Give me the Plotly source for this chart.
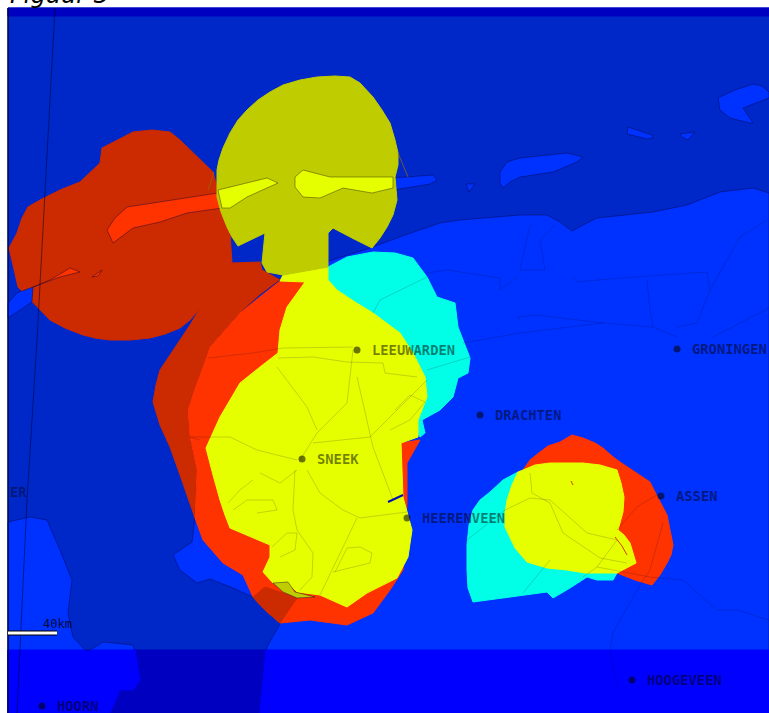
import plotly.graph_objects as go

SEA = "#0028C8"; LAND = "#0032FF"; RED = "#FF3300"; DARKRED = "#CC2A00"
YELLOW = "#E6FF00"; OLIVE = "#BFCC00"; CYAN = "#00FFE6"
STRIP_SEA = "#0000C0"; STRIP_LAND = "#0000FF"; COAST = "rgba(0,0,60,0.4)"; ROAD = "rgba(0,0,40,0.17)"

sea = [(8, 8), (769, 8), (769, 713), (8, 713)]
sea_top = [(8, 8), (769, 8), (769, 16), (8, 16)]
sea_bottom = [(8, 650), (769, 650), (769, 713), (8, 713)]
darkred_north = [(9, 248), (13, 240), (17, 233), (22, 218), (28, 207), (40, 200), (60, 190), (80, 182), (90, 172), (100, 163),
                 (102, 148), (117, 140), (133, 132), (152, 130), (170, 132), (180, 140), (187, 147), (200, 160), (213, 172),
                 (217, 187), (230, 233), (232, 263), (260, 262), (262, 270), (280, 280), (300, 300),
                 (240, 420), (195, 518), (190, 503), (180, 475), (170, 447), (160, 425), (153, 402), (156, 385), (160, 370),
                 (170, 355), (180, 340), (190, 325), (200, 308), (190, 320), (180, 328), (165, 334), (150, 338), (130, 340),
                 (110, 340), (95, 338), (83, 335), (65, 328), (50, 320), (40, 310), (33, 302), (18, 287), (13, 265)]
land_main = [(769, 193), (753, 188), (720, 192), (703, 199), (687, 205), (653, 212), (625, 215), (597, 218), (585, 224), (572, 231),
             (560, 222), (547, 215), (520, 215), (487, 218), (460, 220), (440, 223), (405, 235), (370, 248), (300, 270),
             (280, 280), (260, 295), (240, 313), (225, 330), (210, 347), (203, 367), (195, 388), (188, 410),
             (190, 437), (197, 470), (195, 518), (192, 542), (173, 555), (180, 570), (197, 583), (210, 579), (233, 588),
             (253, 597), (265, 587), (295, 597), (280, 623), (267, 647), (260, 713), (769, 713)]
land_west = [(8, 522), (30, 517), (47, 520), (60, 550), (72, 580), (68, 613), (73, 637), (87, 652), (103, 642), (133, 645),
             (140, 680), (133, 690), (120, 690), (110, 713), (8, 713)]
land_main_strip = [(266, 650), (769, 650), (769, 713), (260, 713)]
land_west_strip = [(8, 650), (84, 650), (87, 652), (92, 650), (135, 650), (140, 680), (133, 690), (120, 690), (110, 713), (8, 713)]
islands = [
    [(393, 178), (433, 175), (437, 180), (430, 184), (393, 190)],
    [(466, 184), (475, 184), (469, 192)],
    [(500, 172), (507, 162), (520, 158), (567, 153), (583, 157), (577, 162), (553, 172), (520, 177), (510, 182), (503, 188), (500, 183)],
    [(628, 127), (652, 135), (653, 138), (647, 139), (627, 134)],
    [(680, 134), (695, 132), (688, 140), (682, 137)],
    [(718, 98), (735, 90), (753, 84), (762, 86), (769, 92), (769, 98), (743, 108), (753, 123), (750, 123), (730, 118), (720, 110)],
    [(8, 303), (17, 293), (33, 287), (32, 302), (8, 318)],
]
red_main = [(305, 282), (280, 281), (240, 313), (225, 330), (210, 347), (203, 367), (195, 388), (188, 410), (190, 437), (197, 470), (195, 518),
            (203, 540), (223, 563), (243, 575), (253, 597), (265, 610), (280, 623), (310, 620), (347, 625), (373, 613), (390, 590), (403, 570),
            (407, 503), (407, 463), (420, 440), (401, 443), (350, 400)]
red_islands = [
    [(218, 193), (170, 200), (127, 207), (115, 218), (107, 230), (113, 243), (133, 228), (160, 222), (187, 213), (222, 208)],
    [(33, 287), (50, 280), (70, 268), (80, 272), (60, 277), (40, 284)],
    [(92, 277), (102, 270), (98, 276)],
]
darkred_south = [(253, 597), (265, 587), (297, 598), (280, 623), (265, 610)]
cyan_main = [(328, 280), (328, 267), (347, 257), (373, 252), (395, 253), (413, 258), (427, 277), (437, 297), (455, 303), (458, 327),
             (470, 358), (468, 373), (458, 378), (453, 397), (440, 410), (422, 420), (425, 433), (420, 437), (400, 400), (360, 320)]
yellow_main = [(280, 281), (283, 275), (328, 267), (328, 280), (337, 290), (355, 302), (373, 313), (400, 333), (413, 353), (425, 377), (427, 397), (418, 420),
               (418, 437), (401, 443), (403, 497), (412, 530), (408, 557), (397, 578), (367, 593), (347, 607), (320, 595),
               (297, 592), (287, 582), (273, 583), (263, 572), (270, 557), (270, 545), (230, 528), (225, 515), (220, 500), (213, 475), (206, 448),
               (220, 417), (240, 383), (260, 367), (278, 353), (280, 330), (287, 307), (305, 282)]
olive_main = [(217, 170), (219, 160), (223, 148), (230, 133), (238, 120), (247, 110), (258, 100), (270, 92), (283, 85), (300, 80),
              (317, 77), (335, 76), (350, 77), (360, 83), (373, 97), (382, 110), (390, 123), (395, 140), (398, 153), (398, 165),
              (395, 177), (396, 190), (397, 200), (393, 215), (387, 227), (380, 238), (372, 248), (352, 238), (333, 228),
              (328, 233), (328, 267), (283, 275), (267, 272), (262, 263), (265, 233), (238, 246), (232, 237), (227, 227),
              (221, 212), (217, 197)]
olive_south = [(273, 583), (288, 582), (295, 592), (315, 597), (297, 598), (283, 592)]
yellow_islands = [
    [(218, 190), (267, 178), (278, 183), (247, 197), (230, 208), (222, 208)],
    [(295, 177), (303, 170), (330, 177), (393, 177), (393, 188), (372, 193), (343, 188), (320, 198), (303, 197), (295, 187)],
]
cyan_east = [(518, 472), (503, 480), (490, 492), (480, 500), (473, 510), (469, 525), (467, 545), (467, 570), (468, 588), (473, 602),
             (510, 597), (547, 592), (553, 598), (570, 588), (587, 577), (597, 580), (613, 580), (617, 573), (570, 520)]
red_east = [(523, 470), (530, 460), (540, 452), (548, 446), (560, 442), (572, 435), (583, 438), (595, 443), (603, 448), (612, 456),
            (620, 462), (635, 472), (650, 482), (655, 492), (660, 502), (667, 515), (670, 530), (673, 545), (671, 555), (667, 563),
            (660, 575), (652, 585), (635, 580), (617, 573), (590, 520)]
yellow_east = [(523, 470), (535, 465), (550, 463), (583, 463), (600, 465), (617, 470), (621, 483), (624, 497), (623, 512), (618, 530),
               (624, 535), (630, 543), (636, 563), (628, 567), (617, 573), (585, 573), (567, 570), (547, 568), (527, 562), (515, 548),
               (505, 527), (505, 513), (507, 500), (512, 485), (518, 472)]

roads = [
    [(208, 358), (253, 353), (283, 348), (353, 347)],
    [(278, 358), (313, 357), (347, 362), (383, 363), (385, 373), (417, 377)],
    [(353, 350), (347, 403), (317, 433), (300, 460)],
    [(357, 377), (373, 447), (393, 500)],
    [(277, 367), (307, 407), (317, 430)],
    [(230, 437), (257, 450), (297, 460)],
    [(297, 470), (280, 483), (260, 473)],
    [(295, 470), (293, 510), (297, 530), (313, 553), (312, 577), (300, 590)],
    [(307, 470), (320, 493), (343, 510), (360, 518), (407, 512)],
    [(357, 518), (343, 547), (332, 570), (320, 595)],
    [(333, 572), (370, 563), (372, 553), (360, 547), (347, 548), (335, 572)],
    [(272, 547), (287, 533), (297, 533), (295, 550), (280, 557)],
    [(427, 380), (370, 437), (313, 443)],
    [(228, 503), (240, 490), (253, 480)],
    [(233, 510), (247, 500), (273, 500), (277, 510), (257, 513)],
    [(373, 313), (380, 300), (427, 277)],
    [(427, 370), (470, 357)],
    [(395, 410), (410, 395), (425, 402), (410, 420), (390, 430)],
    [(427, 273), (447, 270), (500, 278), (500, 290), (517, 277)],
    [(520, 320), (517, 317), (537, 315), (603, 323), (653, 327), (677, 337)],
    [(463, 343), (520, 333), (603, 323)],
    [(573, 277), (577, 282), (620, 278), (707, 272), (710, 290), (697, 323), (677, 327)],
    [(647, 280), (650, 310), (653, 327)],
    [(710, 290), (740, 237), (767, 220)],
    [(713, 337), (769, 308)],
    [(530, 225), (520, 270), (545, 270), (540, 240), (555, 225)],
    [(530, 473), (532, 493), (550, 503), (563, 533), (600, 558), (627, 563)],
    [(505, 510), (530, 498), (550, 500), (573, 520), (587, 533), (617, 540), (597, 567), (583, 577)],
    [(467, 540), (505, 510)],
    [(550, 560), (523, 593)],
    [(617, 530), (637, 507), (660, 493)],
    [(663, 523), (650, 570), (637, 590), (613, 633), (610, 650), (617, 687)],
    [(597, 567), (650, 577), (683, 580), (717, 610), (737, 610), (769, 620)],
    [(200, 440), (190, 437), (230, 437)],
]
waterway = [(388, 502), (403, 495)]
east_streak = [(615, 537), (622, 546), (627, 555)]
east_speck = [(571, 481), (573, 485)]
olive_streak_right = [(398, 153), (408, 177)]
olive_streak_left = [(214, 172), (208, 190)]
meridian = [(55, 8), (37, 340), (27, 500), (17, 713)]
left_edge = [(8, 8), (8, 713)]
scale_bar = [(8, 633), (57, 633)]

city_names = ["LEEUWARDEN", "GRONINGEN", "DRACHTEN", "SNEEK", "ASSEN", "HEERENVEEN", "HOOGEVEEN", "HOORN"]
city_x = [357, 677, 480, 302, 661, 407, 632, 42]
city_y = [350, 349, 415, 459, 496, 518, 680, 706]


def poly(pts, color, line=None):
    xs = [p[0] for p in pts] + [pts[0][0]]
    ys = [p[1] for p in pts] + [pts[0][1]]
    return go.Scatter(x=xs, y=ys, mode="lines", fill="toself", fillcolor=color,
                      line=dict(color=line or color, width=1), hoverinfo="skip", showlegend=False)


def line(pts, color, width=1):
    return go.Scatter(x=[p[0] for p in pts], y=[p[1] for p in pts], mode="lines",
                      line=dict(color=color, width=width), hoverinfo="skip", showlegend=False)


fig = go.Figure()
fig.add_trace(poly(sea, SEA))
fig.add_trace(poly(sea_top, STRIP_SEA))
fig.add_trace(poly(sea_bottom, STRIP_SEA))
fig.add_trace(poly(darkred_north, DARKRED))
fig.add_trace(poly(land_main, LAND, COAST))
fig.add_trace(poly(land_west, LAND, COAST))
fig.add_trace(poly(land_main_strip, STRIP_LAND))
fig.add_trace(poly(land_west_strip, STRIP_LAND))
for isl in islands:
    fig.add_trace(poly(isl, LAND, COAST))
fig.add_trace(poly(red_main, RED))
for isl in red_islands:
    fig.add_trace(poly(isl, RED, COAST))
fig.add_trace(poly(darkred_south, DARKRED))
fig.add_trace(poly(cyan_main, CYAN))
fig.add_trace(poly(yellow_main, YELLOW))
fig.add_trace(poly(olive_main, OLIVE))
fig.add_trace(poly(olive_south, OLIVE, COAST))
for isl in yellow_islands:
    fig.add_trace(poly(isl, YELLOW, "rgba(60,60,0,0.5)"))
fig.add_trace(poly(cyan_east, CYAN))
fig.add_trace(poly(red_east, RED))
fig.add_trace(poly(yellow_east, YELLOW))
for r in roads:
    fig.add_trace(line(r, ROAD))
fig.add_trace(line(waterway, "#0010B0", 2))
fig.add_trace(line(east_streak, "#D04000", 1))
fig.add_trace(line(east_speck, "#D04000", 1))
fig.add_trace(line(olive_streak_right, "rgba(150,110,0,0.7)", 1))
fig.add_trace(line(olive_streak_left, "rgba(150,110,0,0.7)", 1))
fig.add_trace(line(meridian, "rgba(0,0,40,0.5)"))
fig.add_trace(line(left_edge, "rgba(0,0,40,0.8)", 1.5))
fig.add_trace(line(scale_bar, "#000000", 5))
fig.add_trace(line(scale_bar, "#FFFFFF", 3))
fig.add_trace(go.Scatter(x=city_x, y=city_y, mode="markers", marker=dict(size=7, color="rgba(0,0,0,0.55)"),
                         hoverinfo="skip", showlegend=False))

for name, cx, cy in zip(city_names, city_x, city_y):
    fig.add_annotation(x=cx + 13, y=cy, xref="x", yref="y", text="<b>" + name + "</b>", showarrow=False, xanchor="left", yanchor="middle",
                       font=dict(family="DejaVu Sans Mono", size=13.8, color="rgba(0,0,0,0.5)"))
fig.add_annotation(x=8, y=492, xref="x", yref="y", text="<b>ER</b>", showarrow=False, xanchor="left", yanchor="middle",
                   font=dict(family="DejaVu Sans Mono", size=13.8, color="rgba(0,0,0,0.4)"))
fig.add_annotation(x=41, y=624, xref="x", yref="y", text="40km", showarrow=False, xanchor="left", yanchor="middle",
                   font=dict(family="DejaVu Sans Mono", size=12, color="rgba(0,0,0,0.8)"))
fig.add_annotation(x=8, y=8, xref="x", yref="y", text="<i>Figuur 3</i>", showarrow=False, xanchor="left", yanchor="bottom",
                   yshift=-3, font=dict(family="DejaVu Sans", size=24, color="#000000"))

fig.update_xaxes(visible=False, range=[0, 769], fixedrange=True)
fig.update_yaxes(visible=False, range=[713, 0], fixedrange=True)
fig.update_layout(width=769, height=713, margin=dict(l=0, r=0, t=0, b=0), paper_bgcolor="white", plot_bgcolor="white",
                  showlegend=False)
fig.write_html("out.html", config={"displayModeBar": False},
               post_script="document.body.style.margin='0';document.body.style.overflow='hidden';")
